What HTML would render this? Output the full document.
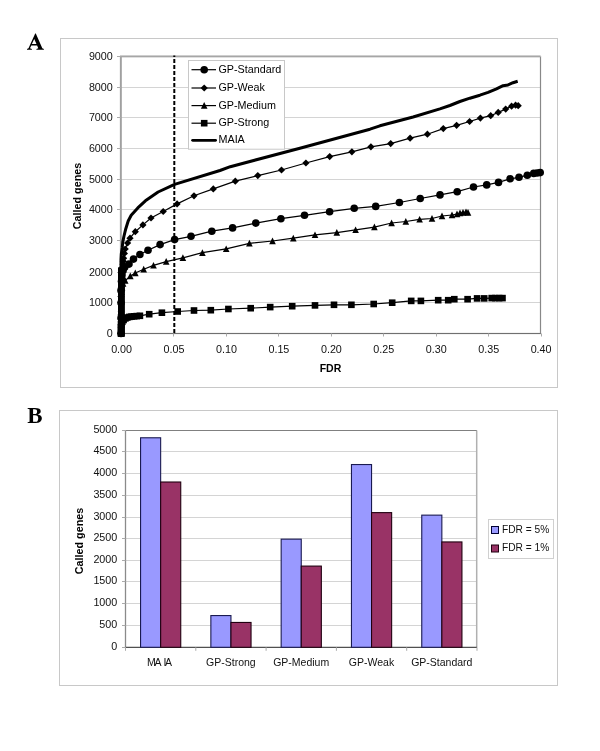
<!DOCTYPE html>
<html><head><meta charset="utf-8"><style>
html,body{margin:0;padding:0;background:#fff;width:600px;height:751px;overflow:hidden;font-family:"Liberation Sans",sans-serif;}
</style></head><body>
<svg width="600" height="751" viewBox="0 0 600 751" style="display:block;will-change:transform">
<rect x="0" y="0" width="600" height="751" fill="#fff"/>
<path fill="#000" fill-rule="evenodd" d="M35.2,33.4 L35.8,33.4 L42.3,48.2 L43.9,48.9 L43.9,49.7 L36.4,49.7 L36.4,48.9 L38.3,48.2 L37.08,45.4 L31.27,45.4 L30.0,48.2 L31.9,48.9 L31.9,49.7 L27.0,49.7 L27.0,48.9 L28.5,48.2 Z M34.24,38.9 L36.47,44.0 L31.9,44.0 Z"/>
<text transform="translate(27.2,423.2) scale(0.955,1)" font-family="&quot;Liberation Serif&quot;, serif" font-weight="bold" font-size="24px" fill="#000">B</text>
<rect x="60.5" y="38.5" width="497" height="349" fill="none" stroke="#c8c8c8" stroke-width="1"/>
<line x1="121.0" y1="302.5" x2="540.5" y2="302.5" stroke="#d4d4d4" stroke-width="1"/>
<line x1="121.0" y1="272.5" x2="540.5" y2="272.5" stroke="#d4d4d4" stroke-width="1"/>
<line x1="121.0" y1="240.5" x2="540.5" y2="240.5" stroke="#d4d4d4" stroke-width="1"/>
<line x1="121.0" y1="209.5" x2="540.5" y2="209.5" stroke="#d4d4d4" stroke-width="1"/>
<line x1="121.0" y1="179.5" x2="540.5" y2="179.5" stroke="#d4d4d4" stroke-width="1"/>
<line x1="121.0" y1="148.5" x2="540.5" y2="148.5" stroke="#d4d4d4" stroke-width="1"/>
<line x1="121.0" y1="117.5" x2="540.5" y2="117.5" stroke="#d4d4d4" stroke-width="1"/>
<line x1="121.0" y1="87.5" x2="540.5" y2="87.5" stroke="#d4d4d4" stroke-width="1"/>
<rect x="120.5" y="56.5" width="420.0" height="277.0" fill="none" stroke="#888" stroke-width="1.2"/>
<line x1="120.9" y1="56.5" x2="120.9" y2="333.5" stroke="#a0a0a0" stroke-width="1.8"/>
<line x1="120" y1="56.3" x2="540.5" y2="56.3" stroke="#fff" stroke-width="1.3"/>
<line x1="120" y1="56.3" x2="540.5" y2="56.3" stroke="#a6a6a6" stroke-width="1.7"/>
<line x1="121.0" y1="333.5" x2="540.5" y2="333.5" stroke="#707070" stroke-width="1.2"/>
<line x1="117" y1="333.5" x2="121.0" y2="333.5" stroke="#aaa" stroke-width="1"/>
<text x="112.8" y="336.5" text-anchor="end" font-family="&quot;Liberation Sans&quot;, sans-serif" font-size="10.75px" fill="#111">0</text>
<line x1="117" y1="302.5" x2="121.0" y2="302.5" stroke="#aaa" stroke-width="1"/>
<text x="112.8" y="305.5" text-anchor="end" font-family="&quot;Liberation Sans&quot;, sans-serif" font-size="10.75px" fill="#111">1000</text>
<line x1="117" y1="272.5" x2="121.0" y2="272.5" stroke="#aaa" stroke-width="1"/>
<text x="112.8" y="275.5" text-anchor="end" font-family="&quot;Liberation Sans&quot;, sans-serif" font-size="10.75px" fill="#111">2000</text>
<line x1="117" y1="240.5" x2="121.0" y2="240.5" stroke="#aaa" stroke-width="1"/>
<text x="112.8" y="243.5" text-anchor="end" font-family="&quot;Liberation Sans&quot;, sans-serif" font-size="10.75px" fill="#111">3000</text>
<line x1="117" y1="209.5" x2="121.0" y2="209.5" stroke="#aaa" stroke-width="1"/>
<text x="112.8" y="212.5" text-anchor="end" font-family="&quot;Liberation Sans&quot;, sans-serif" font-size="10.75px" fill="#111">4000</text>
<line x1="117" y1="179.5" x2="121.0" y2="179.5" stroke="#aaa" stroke-width="1"/>
<text x="112.8" y="182.5" text-anchor="end" font-family="&quot;Liberation Sans&quot;, sans-serif" font-size="10.75px" fill="#111">5000</text>
<line x1="117" y1="148.5" x2="121.0" y2="148.5" stroke="#aaa" stroke-width="1"/>
<text x="112.8" y="151.5" text-anchor="end" font-family="&quot;Liberation Sans&quot;, sans-serif" font-size="10.75px" fill="#111">6000</text>
<line x1="117" y1="117.5" x2="121.0" y2="117.5" stroke="#aaa" stroke-width="1"/>
<text x="112.8" y="120.5" text-anchor="end" font-family="&quot;Liberation Sans&quot;, sans-serif" font-size="10.75px" fill="#111">7000</text>
<line x1="117" y1="87.5" x2="121.0" y2="87.5" stroke="#aaa" stroke-width="1"/>
<text x="112.8" y="90.5" text-anchor="end" font-family="&quot;Liberation Sans&quot;, sans-serif" font-size="10.75px" fill="#111">8000</text>
<line x1="117" y1="56.5" x2="121.0" y2="56.5" stroke="#aaa" stroke-width="1"/>
<text x="112.8" y="59.5" text-anchor="end" font-family="&quot;Liberation Sans&quot;, sans-serif" font-size="10.75px" fill="#111">9000</text>
<line x1="121.5" y1="333.5" x2="121.5" y2="336.5" stroke="#aaa" stroke-width="1"/>
<text x="121.6" y="352.6" text-anchor="middle" font-family="&quot;Liberation Sans&quot;, sans-serif" font-size="10.75px" fill="#111">0.00</text>
<line x1="173.5" y1="333.5" x2="173.5" y2="336.5" stroke="#aaa" stroke-width="1"/>
<text x="174.0" y="352.6" text-anchor="middle" font-family="&quot;Liberation Sans&quot;, sans-serif" font-size="10.75px" fill="#111">0.05</text>
<line x1="226.5" y1="333.5" x2="226.5" y2="336.5" stroke="#aaa" stroke-width="1"/>
<text x="226.5" y="352.6" text-anchor="middle" font-family="&quot;Liberation Sans&quot;, sans-serif" font-size="10.75px" fill="#111">0.10</text>
<line x1="278.5" y1="333.5" x2="278.5" y2="336.5" stroke="#aaa" stroke-width="1"/>
<text x="278.9" y="352.6" text-anchor="middle" font-family="&quot;Liberation Sans&quot;, sans-serif" font-size="10.75px" fill="#111">0.15</text>
<line x1="331.5" y1="333.5" x2="331.5" y2="336.5" stroke="#aaa" stroke-width="1"/>
<text x="331.4" y="352.6" text-anchor="middle" font-family="&quot;Liberation Sans&quot;, sans-serif" font-size="10.75px" fill="#111">0.20</text>
<line x1="383.5" y1="333.5" x2="383.5" y2="336.5" stroke="#aaa" stroke-width="1"/>
<text x="383.8" y="352.6" text-anchor="middle" font-family="&quot;Liberation Sans&quot;, sans-serif" font-size="10.75px" fill="#111">0.25</text>
<line x1="436.5" y1="333.5" x2="436.5" y2="336.5" stroke="#aaa" stroke-width="1"/>
<text x="436.2" y="352.6" text-anchor="middle" font-family="&quot;Liberation Sans&quot;, sans-serif" font-size="10.75px" fill="#111">0.30</text>
<line x1="488.5" y1="333.5" x2="488.5" y2="336.5" stroke="#aaa" stroke-width="1"/>
<text x="488.7" y="352.6" text-anchor="middle" font-family="&quot;Liberation Sans&quot;, sans-serif" font-size="10.75px" fill="#111">0.35</text>
<line x1="541.5" y1="333.5" x2="541.5" y2="336.5" stroke="#aaa" stroke-width="1"/>
<text x="541.1" y="352.6" text-anchor="middle" font-family="&quot;Liberation Sans&quot;, sans-serif" font-size="10.75px" fill="#111">0.40</text>
<text x="330.5" y="372.3" text-anchor="middle" font-family="&quot;Liberation Sans&quot;, sans-serif" font-weight="bold" font-size="10.5px" fill="#000">FDR</text>
<text transform="translate(80.5,196) rotate(-90)" x="0" y="0" text-anchor="middle" font-family="&quot;Liberation Sans&quot;, sans-serif" font-weight="bold" font-size="10.75px" fill="#000">Called genes</text>
<line x1="174.3" y1="55.5" x2="174.3" y2="333.5" stroke="#000" stroke-width="2" stroke-dasharray="4 2" stroke-dashoffset="2.5"/>
<rect x="118" y="267.3" width="6.9" height="69.4" fill="#000"/>
<polyline points="121.0,333.5 121.0,315.0 121.0,296.6 121.3,287.3 121.5,278.1 122.0,271.9 122.6,267.3 123.1,264.2 123.3,261.2 123.6,258.2 124.4,253.4 125.2,249.0 127.6,243.0 130.0,238.2 135.3,231.7 142.9,224.9 151.0,218.0 163.2,211.5 177.1,203.9 194.0,195.8 213.3,188.9 235.3,181.2 257.8,175.6 281.5,170.0 305.9,163.0 329.7,156.6 351.9,151.8 370.9,146.8 390.7,143.6 410.1,138.2 427.4,134.2 443.3,128.6 456.6,125.3 469.6,121.5 480.4,118.1 490.7,115.7 498.2,112.4 505.7,109.1 511.6,106.2 515.6,105.2 518.2,105.7" fill="none" stroke="#000" stroke-width="1.2"/>
<polyline points="121.0,333.5 121.0,318.1 121.0,302.7 121.0,290.4 121.5,281.2 122.0,275.0 123.1,270.4 124.7,267.3 129.0,264.1 133.5,259.1 139.9,254.5 148.0,250.2 160.1,244.6 174.6,239.6 191.0,236.3 211.8,231.2 232.6,227.9 255.8,223.1 280.9,218.7 304.5,215.3 329.6,211.7 354.2,208.3 375.7,206.4 399.4,202.5 420.2,198.5 440.0,194.9 457.2,191.7 473.5,187.0 486.7,184.9 498.5,182.4 510.1,178.8 519.0,177.3 527.3,175.2 533.7,173.4 537.1,173.0 540.2,172.6" fill="none" stroke="#000" stroke-width="1.2"/>
<polyline points="121.0,333.5 121.0,321.2 121.0,308.9 121.0,299.6 121.5,291.9 122.0,287.3 123.1,283.6 125.2,280.6 130.3,276.0 135.3,273.0 143.7,269.2 153.5,265.4 166.2,261.6 182.9,257.8 202.4,252.7 226.2,248.9 249.4,243.3 272.5,241.0 293.3,238.2 315.0,234.9 336.8,232.6 355.6,229.9 374.4,227.1 391.6,223.0 405.8,221.5 419.6,219.4 432.0,218.5 442.0,216.0 452.0,215.0 457.0,214.0 460.0,213.0 463.0,212.5 466.0,212.0 468.0,212.5" fill="none" stroke="#000" stroke-width="1.2"/>
<polyline points="121.0,333.5 121.0,330.4 121.0,327.3 121.0,324.3 121.3,324.3 122.3,321.8 123.6,320.0 125.4,318.4 127.3,317.5 129.4,316.9 131.5,316.6 134.1,316.3 136.7,316.1 139.9,315.8 149.2,314.2 161.9,312.7 177.7,311.5 194.0,310.5 210.8,310.2 228.4,309.0 250.7,308.2 270.2,307.1 292.2,306.2 315.0,305.4 334.0,304.8 351.4,304.8 373.7,304.0 392.2,302.7 411.2,300.9 420.9,300.9 438.2,300.2 448.2,300.2 454.3,299.2 467.6,299.2 477.1,298.4 484.2,298.4 491.7,298.1 495.4,298.1 499.1,298.1 502.5,298.1" fill="none" stroke="#000" stroke-width="1.2"/>
<polyline points="121.0,333.5 121.0,259.6 121.3,253.9 122.2,247.9 122.8,241.9 124.0,236.0 125.8,228.7 128.2,221.0 131.2,215.2 137.8,207.9 145.4,200.8 158.1,192.0 174.6,184.4 220.0,170.5 230.3,166.7 299.9,148.2 370.0,129.2 379.9,125.8 413.1,117.0 439.9,108.9 449.9,105.5 459.9,101.5 469.9,98.2 479.9,95.2 488.1,92.4 496.5,88.9 503.1,85.7 508.0,84.9 513.0,82.7 517.7,81.2" fill="none" stroke="#000" stroke-width="3" stroke-linejoin="round"/>
<g fill="#000">
<path d="M121.0,329.9L124.6,333.5L121.0,337.1L117.4,333.5Z"/>
<path d="M121.0,311.4L124.6,315.0L121.0,318.6L117.4,315.0Z"/>
<path d="M121.0,293.0L124.6,296.6L121.0,300.2L117.4,296.6Z"/>
<path d="M121.3,283.7L124.9,287.3L121.3,290.9L117.7,287.3Z"/>
<path d="M121.5,274.5L125.1,278.1L121.5,281.7L117.9,278.1Z"/>
<path d="M122.0,268.3L125.6,271.9L122.0,275.5L118.4,271.9Z"/>
<path d="M122.6,263.7L126.2,267.3L122.6,270.9L119.0,267.3Z"/>
<path d="M123.1,260.6L126.7,264.2L123.1,267.9L119.5,264.2Z"/>
<path d="M123.3,257.6L126.9,261.2L123.3,264.8L119.7,261.2Z"/>
<path d="M123.6,254.6L127.2,258.2L123.6,261.8L120.0,258.2Z"/>
<path d="M124.4,249.8L128.0,253.4L124.4,257.0L120.8,253.4Z"/>
<path d="M125.2,245.4L128.8,249.0L125.2,252.6L121.6,249.0Z"/>
<path d="M127.6,239.4L131.2,243.0L127.6,246.6L124.0,243.0Z"/>
<path d="M130.0,234.6L133.6,238.2L130.0,241.8L126.4,238.2Z"/>
<path d="M135.3,228.1L138.9,231.7L135.3,235.3L131.7,231.7Z"/>
<path d="M142.9,221.3L146.5,224.9L142.9,228.5L139.3,224.9Z"/>
<path d="M151.0,214.4L154.6,218.0L151.0,221.6L147.4,218.0Z"/>
<path d="M163.2,207.9L166.8,211.5L163.2,215.1L159.6,211.5Z"/>
<path d="M177.1,200.3L180.7,203.9L177.1,207.5L173.5,203.9Z"/>
<path d="M194.0,192.2L197.6,195.8L194.0,199.4L190.4,195.8Z"/>
<path d="M213.3,185.3L216.9,188.9L213.3,192.5L209.7,188.9Z"/>
<path d="M235.3,177.6L238.9,181.2L235.3,184.8L231.7,181.2Z"/>
<path d="M257.8,172.0L261.4,175.6L257.8,179.2L254.2,175.6Z"/>
<path d="M281.5,166.4L285.1,170.0L281.5,173.6L277.9,170.0Z"/>
<path d="M305.9,159.4L309.5,163.0L305.9,166.6L302.3,163.0Z"/>
<path d="M329.7,153.0L333.3,156.6L329.7,160.2L326.1,156.6Z"/>
<path d="M351.9,148.2L355.5,151.8L351.9,155.4L348.3,151.8Z"/>
<path d="M370.9,143.2L374.5,146.8L370.9,150.4L367.3,146.8Z"/>
<path d="M390.7,140.0L394.3,143.6L390.7,147.2L387.1,143.6Z"/>
<path d="M410.1,134.6L413.7,138.2L410.1,141.8L406.5,138.2Z"/>
<path d="M427.4,130.6L431.0,134.2L427.4,137.8L423.8,134.2Z"/>
<path d="M443.3,125.0L446.9,128.6L443.3,132.2L439.7,128.6Z"/>
<path d="M456.6,121.7L460.2,125.3L456.6,128.9L453.0,125.3Z"/>
<path d="M469.6,117.9L473.2,121.5L469.6,125.1L466.0,121.5Z"/>
<path d="M480.4,114.5L484.0,118.1L480.4,121.7L476.8,118.1Z"/>
<path d="M490.7,112.1L494.3,115.7L490.7,119.3L487.1,115.7Z"/>
<path d="M498.2,108.8L501.8,112.4L498.2,116.0L494.6,112.4Z"/>
<path d="M505.7,105.5L509.3,109.1L505.7,112.7L502.1,109.1Z"/>
<path d="M511.6,102.6L515.2,106.2L511.6,109.8L508.0,106.2Z"/>
<path d="M515.6,101.6L519.2,105.2L515.6,108.8L512.0,105.2Z"/>
<path d="M518.2,102.1L521.8,105.7L518.2,109.3L514.6,105.7Z"/>
<circle cx="121.0" cy="333.5" r="3.8"/>
<circle cx="121.0" cy="318.1" r="3.8"/>
<circle cx="121.0" cy="302.7" r="3.8"/>
<circle cx="121.0" cy="290.4" r="3.8"/>
<circle cx="121.5" cy="281.2" r="3.8"/>
<circle cx="122.0" cy="275.0" r="3.8"/>
<circle cx="123.1" cy="270.4" r="3.8"/>
<circle cx="124.7" cy="267.3" r="3.8"/>
<circle cx="129.0" cy="264.1" r="3.8"/>
<circle cx="133.5" cy="259.1" r="3.8"/>
<circle cx="139.9" cy="254.5" r="3.8"/>
<circle cx="148.0" cy="250.2" r="3.8"/>
<circle cx="160.1" cy="244.6" r="3.8"/>
<circle cx="174.6" cy="239.6" r="3.8"/>
<circle cx="191.0" cy="236.3" r="3.8"/>
<circle cx="211.8" cy="231.2" r="3.8"/>
<circle cx="232.6" cy="227.9" r="3.8"/>
<circle cx="255.8" cy="223.1" r="3.8"/>
<circle cx="280.9" cy="218.7" r="3.8"/>
<circle cx="304.5" cy="215.3" r="3.8"/>
<circle cx="329.6" cy="211.7" r="3.8"/>
<circle cx="354.2" cy="208.3" r="3.8"/>
<circle cx="375.7" cy="206.4" r="3.8"/>
<circle cx="399.4" cy="202.5" r="3.8"/>
<circle cx="420.2" cy="198.5" r="3.8"/>
<circle cx="440.0" cy="194.9" r="3.8"/>
<circle cx="457.2" cy="191.7" r="3.8"/>
<circle cx="473.5" cy="187.0" r="3.8"/>
<circle cx="486.7" cy="184.9" r="3.8"/>
<circle cx="498.5" cy="182.4" r="3.8"/>
<circle cx="510.1" cy="178.8" r="3.8"/>
<circle cx="519.0" cy="177.3" r="3.8"/>
<circle cx="527.3" cy="175.2" r="3.8"/>
<circle cx="533.7" cy="173.4" r="3.8"/>
<circle cx="537.1" cy="173.0" r="3.8"/>
<circle cx="540.2" cy="172.6" r="3.8"/>
<path d="M121.0,330.0L124.3,336.7L117.7,336.7Z"/>
<path d="M121.0,317.7L124.3,324.4L117.7,324.4Z"/>
<path d="M121.0,305.4L124.3,312.1L117.7,312.1Z"/>
<path d="M121.0,296.1L124.3,302.8L117.7,302.8Z"/>
<path d="M121.5,288.4L124.8,295.1L118.2,295.1Z"/>
<path d="M122.0,283.8L125.3,290.5L118.7,290.5Z"/>
<path d="M123.1,280.1L126.4,286.8L119.8,286.8Z"/>
<path d="M125.2,277.1L128.5,283.8L121.9,283.8Z"/>
<path d="M130.3,272.5L133.6,279.2L127.0,279.2Z"/>
<path d="M135.3,269.5L138.6,276.2L132.0,276.2Z"/>
<path d="M143.7,265.7L147.0,272.4L140.4,272.4Z"/>
<path d="M153.5,261.9L156.8,268.6L150.2,268.6Z"/>
<path d="M166.2,258.1L169.5,264.8L162.9,264.8Z"/>
<path d="M182.9,254.3L186.2,261.0L179.6,261.0Z"/>
<path d="M202.4,249.2L205.7,255.9L199.1,255.9Z"/>
<path d="M226.2,245.4L229.5,252.1L222.9,252.1Z"/>
<path d="M249.4,239.8L252.7,246.5L246.1,246.5Z"/>
<path d="M272.5,237.5L275.8,244.2L269.2,244.2Z"/>
<path d="M293.3,234.7L296.6,241.4L290.0,241.4Z"/>
<path d="M315.0,231.4L318.3,238.1L311.7,238.1Z"/>
<path d="M336.8,229.1L340.1,235.8L333.5,235.8Z"/>
<path d="M355.6,226.4L358.9,233.1L352.3,233.1Z"/>
<path d="M374.4,223.6L377.7,230.3L371.1,230.3Z"/>
<path d="M391.6,219.5L394.9,226.2L388.3,226.2Z"/>
<path d="M405.8,218.0L409.1,224.7L402.5,224.7Z"/>
<path d="M419.6,215.9L422.9,222.6L416.3,222.6Z"/>
<path d="M432.0,215.0L435.3,221.7L428.7,221.7Z"/>
<path d="M442.0,212.5L445.3,219.2L438.7,219.2Z"/>
<path d="M452.0,211.5L455.3,218.2L448.7,218.2Z"/>
<path d="M457.0,210.5L460.3,217.2L453.7,217.2Z"/>
<path d="M460.0,209.5L463.3,216.2L456.7,216.2Z"/>
<path d="M463.0,209.0L466.3,215.7L459.7,215.7Z"/>
<path d="M466.0,208.5L469.3,215.2L462.7,215.2Z"/>
<path d="M468.0,209.0L471.3,215.7L464.7,215.7Z"/>
<rect x="117.7" y="330.2" width="6.6" height="6.6"/>
<rect x="117.7" y="327.1" width="6.6" height="6.6"/>
<rect x="117.7" y="324.0" width="6.6" height="6.6"/>
<rect x="117.7" y="321.0" width="6.6" height="6.6"/>
<rect x="118.0" y="321.0" width="6.6" height="6.6"/>
<rect x="119.0" y="318.5" width="6.6" height="6.6"/>
<rect x="120.3" y="316.7" width="6.6" height="6.6"/>
<rect x="122.1" y="315.1" width="6.6" height="6.6"/>
<rect x="124.0" y="314.2" width="6.6" height="6.6"/>
<rect x="126.1" y="313.6" width="6.6" height="6.6"/>
<rect x="128.2" y="313.3" width="6.6" height="6.6"/>
<rect x="130.8" y="313.0" width="6.6" height="6.6"/>
<rect x="133.4" y="312.8" width="6.6" height="6.6"/>
<rect x="136.6" y="312.5" width="6.6" height="6.6"/>
<rect x="145.9" y="310.9" width="6.6" height="6.6"/>
<rect x="158.6" y="309.4" width="6.6" height="6.6"/>
<rect x="174.4" y="308.2" width="6.6" height="6.6"/>
<rect x="190.7" y="307.2" width="6.6" height="6.6"/>
<rect x="207.5" y="306.9" width="6.6" height="6.6"/>
<rect x="225.1" y="305.7" width="6.6" height="6.6"/>
<rect x="247.4" y="304.9" width="6.6" height="6.6"/>
<rect x="266.9" y="303.8" width="6.6" height="6.6"/>
<rect x="288.9" y="302.9" width="6.6" height="6.6"/>
<rect x="311.7" y="302.1" width="6.6" height="6.6"/>
<rect x="330.7" y="301.5" width="6.6" height="6.6"/>
<rect x="348.1" y="301.5" width="6.6" height="6.6"/>
<rect x="370.4" y="300.7" width="6.6" height="6.6"/>
<rect x="388.9" y="299.4" width="6.6" height="6.6"/>
<rect x="407.9" y="297.6" width="6.6" height="6.6"/>
<rect x="417.6" y="297.6" width="6.6" height="6.6"/>
<rect x="434.9" y="296.9" width="6.6" height="6.6"/>
<rect x="444.9" y="296.9" width="6.6" height="6.6"/>
<rect x="451.0" y="295.9" width="6.6" height="6.6"/>
<rect x="464.3" y="295.9" width="6.6" height="6.6"/>
<rect x="473.8" y="295.1" width="6.6" height="6.6"/>
<rect x="480.9" y="295.1" width="6.6" height="6.6"/>
<rect x="488.4" y="294.8" width="6.6" height="6.6"/>
<rect x="492.1" y="294.8" width="6.6" height="6.6"/>
<rect x="495.8" y="294.8" width="6.6" height="6.6"/>
<rect x="499.2" y="294.8" width="6.6" height="6.6"/>
</g>
<rect x="188.5" y="60.5" width="96" height="88.7" fill="#fff" stroke="#c8c8c8" stroke-width="1"/>
<line x1="191.5" y1="69.7" x2="216" y2="69.7" stroke="#000" stroke-width="1.2"/>
<g fill="#000"><circle cx="204.2" cy="69.7" r="3.8"/></g>
<text x="218.5" y="72.7" font-family="&quot;Liberation Sans&quot;, sans-serif" font-size="10.75px" fill="#000">GP-Standard</text>
<line x1="191.5" y1="88" x2="216" y2="88" stroke="#000" stroke-width="1.2"/>
<g fill="#000"><path d="M204.2,84.4L207.8,88.0L204.2,91.6L200.6,88.0Z"/></g>
<text x="218.5" y="91" font-family="&quot;Liberation Sans&quot;, sans-serif" font-size="10.75px" fill="#000">GP-Weak</text>
<line x1="191.5" y1="105.6" x2="216" y2="105.6" stroke="#000" stroke-width="1.2"/>
<g fill="#000"><path d="M204.2,102.1L207.5,108.8L200.9,108.8Z"/></g>
<text x="218.5" y="108.6" font-family="&quot;Liberation Sans&quot;, sans-serif" font-size="10.75px" fill="#000">GP-Medium</text>
<line x1="191.5" y1="123.2" x2="216" y2="123.2" stroke="#000" stroke-width="1.2"/>
<g fill="#000"><rect x="200.9" y="119.9" width="6.6" height="6.6"/></g>
<text x="218.5" y="126.2" font-family="&quot;Liberation Sans&quot;, sans-serif" font-size="10.75px" fill="#000">GP-Strong</text>
<line x1="192.6" y1="140.3" x2="215.6" y2="140.3" stroke="#000" stroke-width="2.8" stroke-linecap="round"/>
<text x="218.5" y="143.3" font-family="&quot;Liberation Sans&quot;, sans-serif" font-size="10.75px" fill="#000">MAIA</text>
<rect x="59.5" y="410.5" width="498" height="275" fill="none" stroke="#c8c8c8" stroke-width="1"/>
<line x1="125.5" y1="625.5" x2="477.0" y2="625.5" stroke="#d4d4d4" stroke-width="1"/>
<line x1="125.5" y1="603.5" x2="477.0" y2="603.5" stroke="#d4d4d4" stroke-width="1"/>
<line x1="125.5" y1="581.5" x2="477.0" y2="581.5" stroke="#d4d4d4" stroke-width="1"/>
<line x1="125.5" y1="560.5" x2="477.0" y2="560.5" stroke="#d4d4d4" stroke-width="1"/>
<line x1="125.5" y1="538.5" x2="477.0" y2="538.5" stroke="#d4d4d4" stroke-width="1"/>
<line x1="125.5" y1="517.5" x2="477.0" y2="517.5" stroke="#d4d4d4" stroke-width="1"/>
<line x1="125.5" y1="495.5" x2="477.0" y2="495.5" stroke="#d4d4d4" stroke-width="1"/>
<line x1="125.5" y1="473.5" x2="477.0" y2="473.5" stroke="#d4d4d4" stroke-width="1"/>
<line x1="125.5" y1="451.5" x2="477.0" y2="451.5" stroke="#d4d4d4" stroke-width="1"/>
<line x1="125.5" y1="430.5" x2="477.0" y2="430.5" stroke="#808080" stroke-width="1.2"/>
<line x1="476.7" y1="430.5" x2="476.7" y2="647.3" stroke="#b0b0b0" stroke-width="1.5"/>
<line x1="125.5" y1="430.5" x2="125.5" y2="647.3" stroke="#8a8a8a" stroke-width="1.3"/>
<line x1="125.5" y1="647.3" x2="477.0" y2="647.3" stroke="#505050" stroke-width="1.2"/>
<line x1="122" y1="647.5" x2="125.5" y2="647.5" stroke="#aaa" stroke-width="1"/>
<text x="117.3" y="649.7" text-anchor="end" font-family="&quot;Liberation Sans&quot;, sans-serif" font-size="10.75px" fill="#111">0</text>
<line x1="122" y1="625.5" x2="125.5" y2="625.5" stroke="#aaa" stroke-width="1"/>
<text x="117.3" y="627.7" text-anchor="end" font-family="&quot;Liberation Sans&quot;, sans-serif" font-size="10.75px" fill="#111">500</text>
<line x1="122" y1="603.5" x2="125.5" y2="603.5" stroke="#aaa" stroke-width="1"/>
<text x="117.3" y="605.7" text-anchor="end" font-family="&quot;Liberation Sans&quot;, sans-serif" font-size="10.75px" fill="#111">1000</text>
<line x1="122" y1="581.5" x2="125.5" y2="581.5" stroke="#aaa" stroke-width="1"/>
<text x="117.3" y="583.7" text-anchor="end" font-family="&quot;Liberation Sans&quot;, sans-serif" font-size="10.75px" fill="#111">1500</text>
<line x1="122" y1="560.5" x2="125.5" y2="560.5" stroke="#aaa" stroke-width="1"/>
<text x="117.3" y="562.7" text-anchor="end" font-family="&quot;Liberation Sans&quot;, sans-serif" font-size="10.75px" fill="#111">2000</text>
<line x1="122" y1="538.5" x2="125.5" y2="538.5" stroke="#aaa" stroke-width="1"/>
<text x="117.3" y="540.7" text-anchor="end" font-family="&quot;Liberation Sans&quot;, sans-serif" font-size="10.75px" fill="#111">2500</text>
<line x1="122" y1="517.5" x2="125.5" y2="517.5" stroke="#aaa" stroke-width="1"/>
<text x="117.3" y="519.7" text-anchor="end" font-family="&quot;Liberation Sans&quot;, sans-serif" font-size="10.75px" fill="#111">3000</text>
<line x1="122" y1="495.5" x2="125.5" y2="495.5" stroke="#aaa" stroke-width="1"/>
<text x="117.3" y="497.7" text-anchor="end" font-family="&quot;Liberation Sans&quot;, sans-serif" font-size="10.75px" fill="#111">3500</text>
<line x1="122" y1="473.5" x2="125.5" y2="473.5" stroke="#aaa" stroke-width="1"/>
<text x="117.3" y="475.7" text-anchor="end" font-family="&quot;Liberation Sans&quot;, sans-serif" font-size="10.75px" fill="#111">4000</text>
<line x1="122" y1="451.5" x2="125.5" y2="451.5" stroke="#aaa" stroke-width="1"/>
<text x="117.3" y="453.7" text-anchor="end" font-family="&quot;Liberation Sans&quot;, sans-serif" font-size="10.75px" fill="#111">4500</text>
<line x1="122" y1="430.5" x2="125.5" y2="430.5" stroke="#aaa" stroke-width="1"/>
<text x="117.3" y="432.7" text-anchor="end" font-family="&quot;Liberation Sans&quot;, sans-serif" font-size="10.75px" fill="#111">5000</text>
<line x1="125.5" y1="647.3" x2="125.5" y2="650.8" stroke="#aaa" stroke-width="1"/>
<line x1="195.8" y1="647.3" x2="195.8" y2="650.8" stroke="#aaa" stroke-width="1"/>
<line x1="266.1" y1="647.3" x2="266.1" y2="650.8" stroke="#aaa" stroke-width="1"/>
<line x1="336.4" y1="647.3" x2="336.4" y2="650.8" stroke="#aaa" stroke-width="1"/>
<line x1="406.7" y1="647.3" x2="406.7" y2="650.8" stroke="#aaa" stroke-width="1"/>
<line x1="477.0" y1="647.3" x2="477.0" y2="650.8" stroke="#aaa" stroke-width="1"/>
<rect x="140.56" y="437.78" width="20.09" height="209.52" fill="#9999ff" stroke="#1a1a50" stroke-width="1.1"/>
<rect x="160.65" y="482.01" width="20.09" height="165.29" fill="#993366" stroke="#200010" stroke-width="1.1"/>
<text x="147.0 154.6 163.4 165.1" y="666.4" font-family="&quot;Liberation Sans&quot;, sans-serif" font-size="10.5px" fill="#111">MAIA</text>
<rect x="210.86" y="615.56" width="20.09" height="31.74" fill="#9999ff" stroke="#1a1a50" stroke-width="1.1"/>
<rect x="230.95" y="622.45" width="20.09" height="24.85" fill="#993366" stroke="#200010" stroke-width="1.1"/>
<text x="230.9" y="666.4" text-anchor="middle" font-family="&quot;Liberation Sans&quot;, sans-serif" font-size="10.5px" fill="#111">GP-Strong</text>
<rect x="281.16" y="539.16" width="20.09" height="108.14" fill="#9999ff" stroke="#1a1a50" stroke-width="1.1"/>
<rect x="301.25" y="566.09" width="20.09" height="81.21" fill="#993366" stroke="#200010" stroke-width="1.1"/>
<text x="301.2" y="666.4" text-anchor="middle" font-family="&quot;Liberation Sans&quot;, sans-serif" font-size="10.5px" fill="#111">GP-Medium</text>
<rect x="351.46" y="464.54" width="20.09" height="182.76" fill="#9999ff" stroke="#1a1a50" stroke-width="1.1"/>
<rect x="371.55" y="512.62" width="20.09" height="134.68" fill="#993366" stroke="#200010" stroke-width="1.1"/>
<text x="371.5" y="666.4" text-anchor="middle" font-family="&quot;Liberation Sans&quot;, sans-serif" font-size="10.5px" fill="#111">GP-Weak</text>
<rect x="421.76" y="515.14" width="20.09" height="132.16" fill="#9999ff" stroke="#1a1a50" stroke-width="1.1"/>
<rect x="441.85" y="541.94" width="20.09" height="105.36" fill="#993366" stroke="#200010" stroke-width="1.1"/>
<text x="441.8" y="666.4" text-anchor="middle" font-family="&quot;Liberation Sans&quot;, sans-serif" font-size="10.5px" fill="#111">GP-Standard</text>
<text transform="translate(83.3,541) rotate(-90)" x="0" y="0" text-anchor="middle" font-family="&quot;Liberation Sans&quot;, sans-serif" font-weight="bold" font-size="10.75px" fill="#000">Called genes</text>
<rect x="488.5" y="519.5" width="65" height="39" fill="#fff" stroke="#d0d0d0" stroke-width="1"/>
<rect x="491.5" y="526.5" width="7" height="7" fill="#9999ff" stroke="#000033" stroke-width="1"/>
<rect x="491.5" y="545" width="7" height="7" fill="#993366" stroke="#200010" stroke-width="1"/>
<text x="502" y="532.8" font-family="&quot;Liberation Sans&quot;, sans-serif" font-size="10.2px" fill="#111">FDR = 5%</text>
<text x="502" y="551" font-family="&quot;Liberation Sans&quot;, sans-serif" font-size="10.2px" fill="#111">FDR = 1%</text>
</svg>
</body></html>
